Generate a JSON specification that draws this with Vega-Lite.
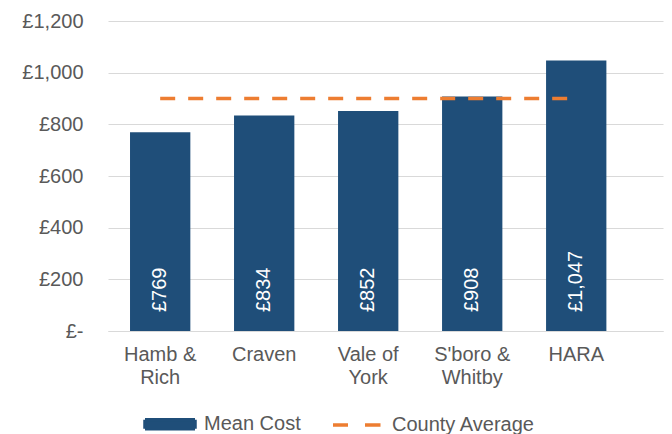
{
  "$schema": "https://vega.github.io/schema/vega-lite/v6.json",
  "width": 555,
  "height": 310,
  "autosize": {"type": "none"},
  "padding": {"left": 108, "top": 21, "right": 9, "bottom": 103},
  "background": "white",
  "config": {
    "font": "Liberation Sans",
    "view": {"stroke": null},
    "axis": {"labelFont": "Liberation Sans", "labelFontSize": 20, "labelColor": "#595959"},
    "legend": {"labelFont": "Liberation Sans", "labelFontSize": 20, "labelColor": "#595959"}
  },
  "datasets": {
    "bars": [
      {"area": "Hamb & Rich", "cost": 769},
      {"area": "Craven", "cost": 834},
      {"area": "Vale of York", "cost": 852},
      {"area": "S'boro & Whitby", "cost": 908},
      {"area": "HARA", "cost": 1047}
    ],
    "avg": [
      {"start": "Hamb & Rich", "end": "HARA", "avg": 900}
    ]
  },
  "layer": [
    {
      "data": {"name": "bars"},
      "mark": {"type": "bar"},
      "encoding": {
        "x": {
          "field": "area", "type": "nominal", "sort": null,
          "scale": {"paddingInner": 0.42, "paddingOuter": 0.378, "align": 0.28},
          "axis": {
            "title": null, "labelAngle": 0, "ticks": false,
            "domainColor": "#d9d9d9", "domainWidth": 1,
            "labelPadding": 13, "labelLineHeight": 23, "labelBaseline": "top",
            "labelExpr": "datum.value == 'Hamb & Rich' ? ['Hamb &', 'Rich'] : datum.value == 'Vale of York' ? ['Vale of', 'York'] : datum.value == \"S'boro & Whitby\" ? [\"S'boro &\", 'Whitby'] : datum.value"
          }
        },
        "y": {
          "field": "cost", "type": "quantitative",
          "scale": {"domain": [0, 1200]},
          "axis": {
            "title": null, "values": [0, 200, 400, 600, 800, 1000, 1200],
            "domain": false, "ticks": false, "gridColor": "#d9d9d9",
            "labelPadding": 25,
            "labelExpr": "datum.value == 0 ? '£-' : '£' + format(datum.value, ',')"
          }
        },
        "color": {
          "datum": "Mean Cost",
          "scale": {"domain": ["Mean Cost", "County Average"], "range": ["#1f4e79", "#ed7d31"]},
          "legend": {
            "title": null, "orient": "none", "direction": "horizontal",
            "legendX": 35, "legendY": 376,
            "columnPadding": 25, "labelOffset": 7, "symbolSize": 2500,
            "encode": {
              "symbols": {
                "update": {
                  "shape": {"signal": "datum.value == 'Mean Cost' ? 'M-1,-0.18H1V0.18H-1Z' : 'M-1,0H-0.4M0.28,0H0.9'"},
                  "fill": {"signal": "datum.value == 'Mean Cost' ? '#1f4e79' : 'transparent'"},
                  "stroke": {"signal": "datum.value == 'Mean Cost' ? 'transparent' : '#ed7d31'"},
                  "strokeWidth": {"value": 3.5},
                  "strokeDash": {"value": [1, 0]},
                  "opacity": {"value": 1}
                }
              }
            }
          }
        }
      }
    },
    {
      "data": {"name": "avg"},
      "mark": {"type": "rule", "strokeDash": [15, 13], "strokeWidth": 3.5},
      "encoding": {
        "x": {"field": "start", "type": "nominal", "sort": null},
        "x2": {"field": "end"},
        "y": {"field": "avg", "type": "quantitative"},
        "color": {"datum": "County Average"}
      }
    },
    {
      "data": {"name": "bars"},
      "transform": [{"calculate": "'£' + format(datum.cost, ',')", "as": "label"}],
      "mark": {"type": "text", "angle": 270, "align": "left", "baseline": "middle", "dx": 19, "color": "white", "fontSize": 20, "font": "Liberation Sans"},
      "encoding": {
        "x": {"field": "area", "type": "nominal", "sort": null},
        "y": {"datum": 0, "type": "quantitative"},
        "text": {"field": "label"}
      }
    }
  ]
}
